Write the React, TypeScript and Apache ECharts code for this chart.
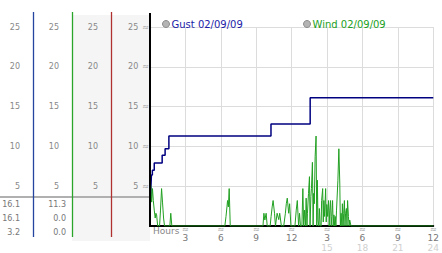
import React, { useEffect, useRef } from "react";
import * as echarts from "echarts";

const gustName = "Gust 02/09/09";
const windName = "Wind 02/09/09";

// [hour, value] – step changes of gust
const gustData: [number, number][] = [
  [0, 3.2], [0.08, 4.9], [0.12, 6.4], [0.2, 7.0], [0.36, 7.9], [1.03, 8.9],
  [1.28, 9.7], [1.6, 11.3], [10.25, 12.8], [13.57, 16.1], [24, 16.1],
];

// [hour, value] – wind readings
const windData: [number, number][] = [
  [0.0, 2.0], [0.06, 5.1], [0.14, 3.0], [0.21, 4.7], [0.28, 3.2], [0.36, 2.0], [0.44, 1.0],
  [0.5, 1.6], [0.56, 1.4], [0.65, 0], [0.81, 0], [0.89, 2.0], [0.98, 4.7], [1.06, 3.0],
  [1.15, 1.0], [1.23, 0], [1.68, 0], [1.76, 1.6], [1.85, 0],
  [6.34, 0], [6.44, 1.2], [6.52, 2.4], [6.57, 3.2], [6.64, 2.4], [6.71, 4.7], [6.8, 0],
  [9.57, 0], [9.65, 1.6], [9.73, 0.75], [9.84, 1.6], [9.93, 0], [10.18, 0], [10.26, 1.2],
  [10.35, 2.4], [10.43, 3.2], [10.55, 1.6], [10.63, 0], [10.77, 1.6], [10.91, 0.8],
  [10.99, 1.6], [11.13, 0], [11.33, 0], [11.47, 1.6], [11.55, 2.8], [11.63, 3.5],
  [11.75, 1.6], [11.83, 2.8], [11.94, 0], [12.28, 0], [12.39, 2.0], [12.48, 3.2],
  [12.59, 0], [12.67, 1.6], [12.75, 0], [12.87, 0], [12.95, 4.7], [13.02, 0], [13.1, 2.0],
  [13.17, 0], [13.23, 3.5], [13.3, 0], [13.34, 1.6], [13.43, 4.1], [13.51, 6.2],
  [13.56, 0], [13.63, 3.7], [13.68, 4.7], [13.76, 8.0], [13.82, 0], [13.87, 4.1],
  [13.92, 2.8], [13.99, 8.7], [14.07, 11.3], [14.13, 0], [14.18, 5.75], [14.23, 0.75],
  [14.3, 0], [14.35, 2.2], [14.42, 0], [14.5, 0], [14.54, 3.2], [14.63, 4.7], [14.68, 0.5],
  [14.73, 3.2], [14.79, 1.2], [14.88, 4.7], [14.93, 0.5], [14.98, 2.7], [15.05, 1.2],
  [15.13, 3.2], [15.18, 0], [15.23, 1.9], [15.3, 3.2], [15.35, 0], [15.4, 1.2], [15.47, 3.2],
  [15.52, 0], [15.58, 1.4], [15.64, 0], [15.69, 1.2], [15.75, 0], [15.8, 1.9], [15.92, 5.75],
  [16.0, 9.7], [16.08, 5.4], [16.13, 0], [16.19, 1.6], [16.26, 0], [16.3, 2.8], [16.36, 0],
  [16.41, 1.6], [16.47, 3.2], [16.52, 0], [16.57, 1.6], [16.64, 2.2], [16.69, 0],
  [16.74, 3.2], [16.81, 1.2], [16.87, 0], [16.92, 0.75], [17.03, 0],
  [24, 0],
];

const gustStats = ["16.1", "16.1", "3.2"];
const windStats = ["11.3", "0.0", "0.0"];

const yMax = 25;
const yStep = 5;
const xMax = 24;
const xStep = 3;

const axisColors = ["#2544a0", "#2aa52a", "#b03030", "#000000"];
const axisOffsets = [117, 78, 39, 0];
const axisLineX = [33.5, 72.5, 111.5];

const FONT = "DejaVu Sans";

export default function App() {
  const ref = useRef<HTMLDivElement>(null);
  useEffect(() => {
    if (!ref.current) return;
    const chart = echarts.init(ref.current, null, { renderer: "svg" });

    const yAxes = axisOffsets.map((off, i) => ({
      type: "value",
      min: 0,
      max: yMax,
      interval: yStep,
      position: "left",
      offset: off,
      axisLine: { show: false },
      axisTick: { show: false },
      splitLine: { show: i === 3, lineStyle: { color: "#dcdcdc", width: 1 } },
      axisLabel: {
        showMinLabel: false,
        margin: i === 3 ? 1 : 13,
        color: "#888",
        fontSize: 8,
        fontFamily: FONT,
        formatter: i === 3 ? (v: number) => `{a|${v}}{t|≈}` : (v: number) => `${v}`,
        rich: {
          a: { color: "#888", fontSize: 8, fontFamily: FONT },
          t: { color: "#999", fontSize: 8, fontFamily: FONT, padding: [0, 0, 0, 4] },
        },
      },
    }));

    const graphics: any[] = [
      {
        type: "rect",
        z: -100,
        shape: { x: 72, y: 15, width: 78, height: 226 },
        style: { fill: "#f5f5f5" },
      },
      {
        type: "line",
        z: 50,
        shape: { x1: 0, y1: 197, x2: 150, y2: 197 },
        style: { stroke: "#b0b0b0", lineWidth: 2 },
      },
      ...axisLineX.map((x, i) => ({
        type: "line",
        z: 60,
        shape: { x1: x, y1: 12, x2: x, y2: 237 },
        style: { stroke: axisColors[i], lineWidth: 1.3 },
      })),
      {
        type: "line",
        z: 60,
        shape: { x1: 150, y1: 13, x2: 150, y2: 227 },
        style: { stroke: "#000", lineWidth: 2 },
      },
      {
        type: "text",
        z: 60,
        x: 153,
        y: 231,
        style: { text: "Hours", fill: "#888", fontSize: 9, fontFamily: FONT, verticalAlign: "middle" },
      },
      ...gustStats.map((s, i) => ({
        type: "text",
        z: 60,
        x: 20,
        y: [204.5, 218, 232.5][i],
        style: { text: s, fill: "#777", fontSize: 8, fontFamily: FONT, align: "right", verticalAlign: "middle" },
      })),
      ...windStats.map((s, i) => ({
        type: "text",
        z: 60,
        x: 66,
        y: [204.5, 218, 232.5][i],
        style: { text: s, fill: "#777", fontSize: 8, fontFamily: FONT, align: "right", verticalAlign: "middle" },
      })),
    ];

    const legendBase = {
      icon: "circle",
      itemWidth: 7,
      itemHeight: 7,
      top: 14,
      selectedMode: false,
      itemStyle: { color: "#b4b4b4", borderColor: "#8c8c8c", borderWidth: 1 },
      textStyle: { fontSize: 10, fontFamily: FONT, padding: [0, 0, 0, -3] },
    };

    chart.setOption({
      animation: false,
      backgroundColor: "#ffffff",
      grid: { left: 150, right: 6, top: 27, bottom: 27 },
      legend: [
        { ...legendBase, left: 157, data: [{ name: gustName, textStyle: { color: "#1c1ca8" } }] },
        { ...legendBase, left: 298, data: [{ name: windName, textStyle: { color: "#22a022" } }] },
      ],
      xAxis: {
        type: "value",
        min: 0,
        max: xMax,
        interval: xStep,
        axisLine: { show: true, lineStyle: { color: "#000", width: 2 } },
        axisTick: { show: false },
        splitLine: { show: true, lineStyle: { color: "#dcdcdc", width: 1 } },
        axisLabel: {
          showMinLabel: false,
          margin: 0,
          formatter: (v: number) => {
            const h = v % 12 === 0 ? 12 : v % 12;
            return v > 12 ? `{t|≈}\n{a|${h}}\n{b|${v}}` : `{t|≈}\n{a|${h}}`;
          },
          rich: {
            t: { color: "#999", fontSize: 8, fontFamily: FONT, lineHeight: 7 },
            a: { color: "#777", fontSize: 9, fontFamily: FONT, lineHeight: 10 },
            b: { color: "#cfcfcf", fontSize: 9, fontFamily: FONT, lineHeight: 10 },
          },
        },
      },
      yAxis: yAxes,
      series: [
        {
          name: gustName,
          type: "line",
          step: "end",
          data: gustData,
          showSymbol: false,
          z: 3,
          lineStyle: { color: "#000080", width: 1.5 },
          itemStyle: { color: "#b4b4b4" },
        },
        {
          name: windName,
          type: "line",
          data: windData,
          showSymbol: false,
          z: 4,
          lineStyle: { color: "#22a022", width: 1 },
          itemStyle: { color: "#b4b4b4" },
        },
      ],
      graphic: graphics,
    });
    return () => chart.dispose();
  }, []);
  return (
    <div
      ref={ref}
      style={{ position: "fixed", left: 0, top: 0, width: 442, height: 253, background: "#fff" }}
    />
  );
}
